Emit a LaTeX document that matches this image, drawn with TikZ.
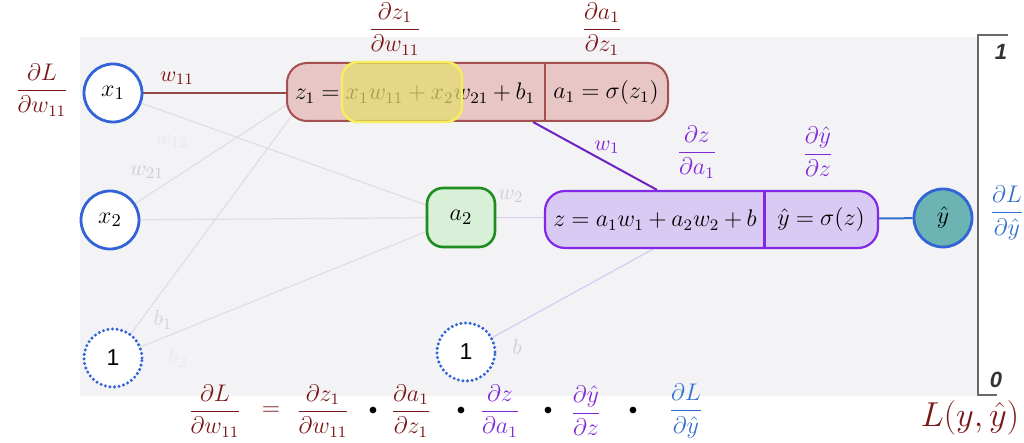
\documentclass[tikz,border=0pt]{standalone}
\usepackage{amsmath}
\usepackage{fontspec}
\newfontfamily\hv{Liberation Sans}
\usetikzlibrary{calc,backgrounds}
\definecolor{dred}{RGB}{122,22,22}
\definecolor{ptext}{RGB}{128,40,215}
\definecolor{btext}{RGB}{50,110,205}
\definecolor{cblue}{RGB}{50,100,215}
\definecolor{rfill}{RGB}{232,198,198}
\definecolor{rborder}{RGB}{165,80,80}
\definecolor{yfill}{RGB}{228,222,110}
\definecolor{yborder}{RGB}{248,240,90}
\definecolor{gfill}{RGB}{215,240,215}
\definecolor{gborder}{RGB}{30,140,30}
\definecolor{pfill}{RGB}{216,202,242}
\definecolor{pborder}{RGB}{130,40,230}
\definecolor{tfill}{RGB}{108,180,180}
\definecolor{panel}{RGB}{243,243,246}
\definecolor{faint}{RGB}{222,222,228}
\definecolor{faintp}{RGB}{214,204,240}
\definecolor{flabel}{RGB}{205,205,212}
\definecolor{vfaint}{RGB}{234,234,238}
\definecolor{brk}{RGB}{105,105,105}
\tikzset{
  base/.style={font=\fontsize{11.8}{14}\selectfont, inner sep=0pt},
  circ/.style={base, font=\fontsize{12.8}{14}\selectfont, circle, draw=cblue, line width=1.4pt, fill=white, minimum size=29pt},
  dotcirc/.style={circ, font=\fontsize{11.5}{13}\selectfont, dash pattern=on 0pt off 2.3pt, line cap=round, line width=1.7pt},
  redbox/.style={draw=rborder, fill=rfill, rounded corners=10pt, line width=1pt, minimum width=190.5pt, minimum height=29pt},
  hilite/.style={draw=yborder, fill=yfill, fill opacity=0.72, draw opacity=1, rounded corners=8pt, line width=1.2pt, minimum width=60pt, minimum height=30pt},
  greenbox/.style={base, font=\fontsize{12.8}{14}\selectfont, draw=gborder, fill=gfill, rounded corners=8pt, line width=1.3pt, minimum width=34pt, minimum height=29.5pt},
  purpbox/.style={draw=pborder, fill=pfill, rounded corners=10pt, line width=1.1pt, minimum width=166.5pt, minimum height=28.5pt},
  lab/.style={base, font=\fontsize{11}{12}\selectfont},
  frac/.style={base},
  dotsym/.style={base, font=\fontsize{8}{9}\selectfont},
  faintline/.style={draw=faint, line width=0.6pt},
  faintpline/.style={draw=faintp, line width=0.6pt},
}
\begin{document}
\thickmuskip=4.6mu plus 2mu\relax
\medmuskip=3.4mu plus 1mu minus 2mu\relax
\begin{tikzpicture}[x=0.5pt,y=-0.5pt]
\useasboundingbox (0,0) rectangle (1024,443);

% input nodes
\node[circ] (x1) at (113,93) {$x_1$};
\node[circ] (x2) at (110,220) {$x_2$};
\node[dotcirc] (one1) at (113,358) {\hv 1};
\node[dotcirc] (one2) at (466,352) {\hv 1};

% hidden layer boxes
\node[redbox] (z1box) at (477.5,92) {};
\draw[rborder, line width=1pt] ($(z1box.north west)!0.677!(z1box.north east)$) -- ($(z1box.south west)!0.677!(z1box.south east)$);
\node[base] (z1t) at (415,93) {$z_1 = x_1w_{11} + x_2w_{21} + b_1$};
\node[base] (a1t) at (606,93) {$a_1 = \sigma(z_1)$};
\node[hilite] (hl) at (402,92) {};

\node[greenbox] (a2) at (461,217.5) {$a_2$};

\node[purpbox] (zbox) at (711.5,219.5) {};
\draw[pborder, line width=1.1pt] ($(zbox.north west)!0.658!(zbox.north east)$) -- ($(zbox.south west)!0.658!(zbox.south east)$);
\node[base] (zt) at (655,220) {$z = a_1w_1 + a_2w_2 + b$};
\node[base] (yt) at (821,220) {$\hat{y} = \sigma(z)$};

\node[circ, fill=tfill] (yhat) at (943,218) {$\hat{y}$};

% connection points
\coordinate (z1in2) at (288,104);
\coordinate (z1in3) at (293,114);

\begin{scope}[on background layer]
  \fill[panel] (80,37) rectangle (978,396);
  \draw[faintline] (x1) -- (a2);
  \draw[faintline] (x2) -- (a2);
  \draw[faintline] (one1) -- (a2);
  \draw[faintline] (x2) -- (z1in2);
  \draw[faintline] (one1) -- (z1in3);
  \draw[faintpline] (a2) -- (a2 -| zbox.west);
  \draw[faintpline] (one2) -- ([xshift=-29.25pt]zbox.south);
  \draw[rborder!90!black, line width=0.9pt] (x1) -- (x1 -| z1box.west);
  \draw[pborder!85!black, line width=1pt] ([xshift=27.75pt]z1box.south) -- ([xshift=-27.25pt]zbox.north);
  \draw[btext, line width=1pt] (zbox) -- (yhat);
\end{scope}

% weight labels
\node[lab, text=dred] (lw11) at (177,78) {$w_{11}$};
\node[lab, text=vfaint] (lw12) at (172,141) {$w_{12}$};
\node[lab, text=flabel] (lw21) at (147,172) {$w_{21}$};
\node[lab, text={rgb,255:red,222;green,208;blue,214}] (lb1) at (163,320) {$b_1$};
\node[lab, text=vfaint] (lb2) at (178,358) {$b_2$};
\node[lab, text=flabel] (lw2) at (511,196) {$w_2$};
\node[lab, text=ptext] (lw1) at (607,147) {$w_1$};
\node[lab, text=flabel] (lb) at (517,347) {$b$};

% derivative labels
\node[frac, text=dred] (dLdw) at (42,90) {$\dfrac{\partial L}{\partial w_{11}}$};
\node[frac, text=dred] (dz1dw) at (395,29) {$\dfrac{\partial z_1}{\partial w_{11}}$};
\node[frac, text=dred] (da1dz1) at (602,29) {$\dfrac{\partial a_1}{\partial z_1}$};
\node[frac, text=ptext] (dzda1) at (697,152) {$\dfrac{\partial z}{\partial a_1}$};
\node[frac, text=ptext] (dydz) at (818,152) {$\dfrac{\partial \hat{y}}{\partial z}$};
\node[frac, text=btext] (dLdy) at (1007,213) {$\dfrac{\partial L}{\partial \hat{y}}$};

% loss bracket
\draw[brk, line width=1.1pt] (1008,35) -- (978,35) -- (978,395) -- (997,395);
\node[base, text=black!80, font=\hv\bfseries\itshape\fontsize{11}{12}\selectfont] (top1) at (1001,52) {1};
\node[base, text=black!80, font=\hv\bfseries\itshape\fontsize{11}{12}\selectfont] (bot0) at (996,380) {0};
\node[base, text=dred, font=\fontsize{16}{18}\selectfont] (Lyy) at (970,418) {$L(y,\hat{y})$};

% chain rule equation
\node[frac, text=dred] (e0) at (215,411) {$\dfrac{\partial L}{\partial w_{11}}$};
\node[frac, text=dred] (eq) at (271,411) {$=$};
\node[frac, text=dred] (e1) at (323,411) {$\dfrac{\partial z_1}{\partial w_{11}}$};
\node[dotsym] (d1) at (373,411) {$\bullet$};
\node[frac, text=dred] (e2) at (411,411) {$\dfrac{\partial a_1}{\partial z_1}$};
\node[dotsym] (d2) at (461,411) {$\bullet$};
\node[frac, text=ptext] (e3) at (500,411) {$\dfrac{\partial z}{\partial a_1}$};
\node[dotsym] (d3) at (548,411) {$\bullet$};
\node[frac, text=ptext] (e4) at (586,411) {$\dfrac{\partial \hat{y}}{\partial z}$};
\node[dotsym] (d4) at (633,411) {$\bullet$};
\node[frac, text=btext] (e5) at (686,411) {$\dfrac{\partial L}{\partial \hat{y}}$};
\end{tikzpicture}
\end{document}
